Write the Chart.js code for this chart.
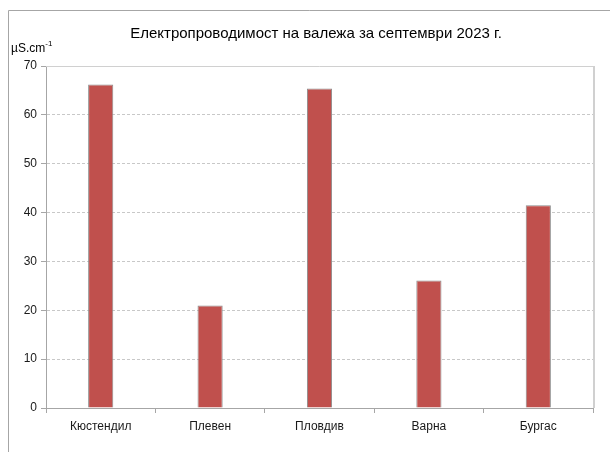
<!DOCTYPE html>
<html>
<head>
<meta charset="utf-8">
<script src="https://cdn.jsdelivr.net/npm/chart.js@4"></script>
<style>
  html, body { margin: 0; padding: 0; background: #fff; }
  #wrap { width: 610px; height: 452px; position: relative; }
</style>
</head>
<body>
<div id="wrap"><canvas id="myChart" width="610" height="452"></canvas></div>
<script>
const stations = ['Кюстендил', 'Плевен', 'Пловдив', 'Варна', 'Бургас'];
const conductivity = [66.2, 21.0, 65.4, 26.1, 41.5];
const yTicks = [0, 10, 20, 30, 40, 50, 60, 70];

const chartTitle = 'Електропроводимост на валежа за септември 2023 г.';
const FONT = '"Liberation Sans", Arial, sans-serif';

// frame, title, unit label and the plot border on top/right
const decorations = {
    id: 'decorations',
    beforeDraw(chart) {
        const c = chart.ctx;
        c.save();
        c.strokeStyle = '#a6a6a6';
        c.lineWidth = 1;
        c.beginPath();
        c.moveTo(8.5, 460);
        c.lineTo(8.5, 10.5);
        c.lineTo(620, 10.5);
        c.stroke();
        c.restore();
    },
    afterDraw(chart) {
        const c = chart.ctx;
        const a = chart.chartArea;
        c.save();
        c.strokeStyle = '#d0d0d0';
        c.lineWidth = 1;
        c.beginPath();
        c.moveTo(a.left, a.top + 0.5);
        c.lineTo(a.right + 0.5, a.top + 0.5);
        c.stroke();
        c.lineWidth = 2;
        c.beginPath();
        c.moveTo(a.right + 1, a.top);
        c.lineTo(a.right + 1, a.bottom);
        c.stroke();

        c.fillStyle = '#000';
        c.textBaseline = 'alphabetic';
        c.textAlign = 'center';
        c.font = '15px ' + FONT;
        c.fillText(chartTitle, 316, 38);

        c.textAlign = 'left';
        c.font = '12px ' + FONT;
        c.fillText('µS.cm', 11, 52);
        const w = c.measureText('µS.cm').width;
        c.font = '8px ' + FONT;
        c.fillText('-1', 11 + w, 46);
        c.restore();
    }
};

const ctx = document.getElementById('myChart');
new Chart(ctx, {
    type: 'bar',
    data: {
        labels: stations,
        datasets: [{
            data: conductivity,
            backgroundColor: '#c0504d',
            borderColor: '#8c8c8c',
            borderWidth: 1,
            barPercentage: 0.23,
            categoryPercentage: 1
        }]
    },
    options: {
        responsive: false,
        animation: false,
        layout: { padding: { left: 14, top: 66, right: 17, bottom: 8 } },
        plugins: {
            legend: { display: false },
            title: { display: false },
            tooltip: { enabled: false }
        },
        scales: {
            x: {
                grid: {
                    drawOnChartArea: false,
                    color: '#a6a6a6',
                    tickLength: 5
                },
                border: { color: '#a6a6a6' },
                ticks: {
                    color: '#1a1a1a',
                    font: { family: FONT, size: 12 },
                    padding: 6
                },
                afterFit(scale) { scale.height = 36; }
            },
            y: {
                min: 0,
                max: 70,
                afterBuildTicks(scale) {
                    scale.ticks = yTicks.map(v => ({ value: v }));
                },
                grid: {
                    color: (c) => (c.tick && (c.tick.value === 0 || c.tick.value === 70)) ? 'rgba(0,0,0,0)' : '#c8c8c8',
                    tickColor: '#a6a6a6',
                    tickLength: 5
                },
                border: {
                    color: '#a6a6a6',
                    dash: [3, 2]
                },
                ticks: {
                    color: '#1a1a1a',
                    font: { family: FONT, size: 12 },
                    padding: 4
                },
                afterFit(scale) { scale.width = 32; }
            }
        }
    },
    plugins: [decorations]
});
</script>
</body>
</html>
